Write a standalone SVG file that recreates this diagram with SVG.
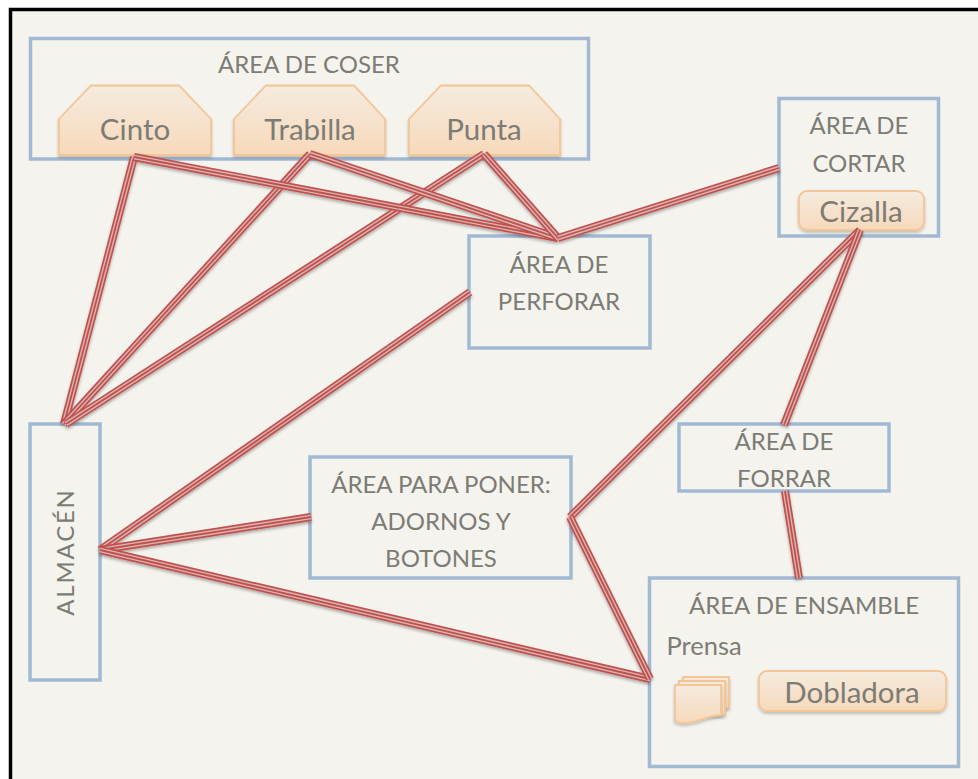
<svg xmlns="http://www.w3.org/2000/svg" width="978" height="779" viewBox="0 0 978 779">
<style>
text{font-family:"Lato","Open Sans","Liberation Sans",sans-serif;fill:#7c7c74;text-anchor:middle}
.t{font-size:24px}
.b{font-size:29.500px}
.box{fill:none;stroke:#a2b9d3;stroke-width:3.5}
.o{fill:url(#og);stroke:#f4c595;stroke-width:1.8;filter:url(#sh)}
.c1,.c2,.c3{fill:none}
.c1{stroke:#c0504d;stroke-width:8}
.c2{stroke:#d9b6b3;stroke-width:4.600}
.c3{stroke:#c0504d;stroke-width:1.800}
</style>
<defs>
<linearGradient id="og" x1="0" y1="0" x2="0" y2="1"><stop offset="0" stop-color="#f5ebdf"/><stop offset="1" stop-color="#f7d9bb"/></linearGradient>
<filter id="sh" x="-10%" y="-10%" width="120%" height="130%"><feDropShadow dx="0" dy="2" stdDeviation="1.500" flood-color="#000" flood-opacity=".22"/></filter>
<filter id="csh" x="-10%" y="-10%" width="120%" height="120%"><feDropShadow dx="0" dy="2" stdDeviation="1.500" flood-color="#000" flood-opacity=".3"/></filter>
</defs>
<rect width="978" height="779" fill="#fff"/>
<rect x="10.500" y="9.500" width="1000" height="800" fill="#f4f3ee" stroke="#000" stroke-width="3.500"/>

<g id="coser"><rect class="box" x="30.500" y="38.500" width="558" height="120.500"/><text class="t" x="309" y="73">ÁREA DE COSER</text></g>
<g id="cinto"><path class="o" d="M91 85.500H179L211 119V155H59V119Z"/><text class="b" x="135" y="140">Cinto</text></g>
<g id="trabilla"><path class="o" d="M266 85.500H354L385 119V155H234V119Z"/><text class="b" x="310" y="140">Trabilla</text></g>
<g id="punta"><path class="o" d="M441 85.500H529L560 119V155H409V119Z"/><text class="b" x="484" y="140">Punta</text></g>
<g id="cortar"><rect class="box" x="779" y="98.500" width="159.500" height="137.500"/><text class="t" x="859" y="134">ÁREA DE</text><text class="t" x="859" y="172">CORTAR</text></g>
<g id="cizalla"><rect class="o" x="799" y="191" width="125" height="39" rx="8"/><text class="b" x="861" y="222">Cizalla</text></g>
<g id="perforar"><rect class="box" x="469" y="236" width="181" height="112"/><text class="t" x="559" y="273">ÁREA DE</text><text class="t" x="559" y="310">PERFORAR</text></g>
<g id="almacen"><rect class="box" x="30" y="424" width="70" height="256"/><text class="t" style="letter-spacing:1.800px" transform="translate(74 552) rotate(-90)">ALMACÉN</text></g>
<g id="poner"><rect class="box" x="310" y="457" width="261" height="121"/><text class="t" x="441" y="493">ÁREA PARA PONER:</text><text class="t" x="441" y="530">ADORNOS Y</text><text class="t" x="441" y="567">BOTONES</text></g>
<g id="forrar"><rect class="box" x="679" y="424" width="210" height="67"/><text class="t" x="784" y="450">ÁREA DE</text><text class="t" x="784" y="487">FORRAR</text></g>
<g id="ensamble"><rect class="box" x="649.500" y="578" width="309" height="188.500"/><text class="t" x="804" y="614">ÁREA DE ENSAMBLE</text><text class="t" style="font-size:25.500px" x="704" y="655">Prensa</text></g>
<g id="prensa">
<path class="o" d="M683 677H729V708H683Z"/>
<path class="o" d="M679 681H725V715H679Z"/>
<path class="o" d="M675 685H721V715C705 716 698 723 684 723Q678 723 675 721Z"/>
</g>
<g id="dobladora"><rect class="o" x="759" y="671" width="187" height="40" rx="8"/><text class="b" x="852" y="703">Dobladora</text></g>

<g id="connectors" filter="url(#csh)">
<g id="c01"><line class="c1" x1="134" y1="157" x2="64" y2="424"/><line class="c2" x1="134" y1="157" x2="64" y2="424"/><line class="c3" x1="134" y1="157" x2="64" y2="424"/></g>
<g id="c02"><line class="c1" x1="310" y1="154" x2="64" y2="424"/><line class="c2" x1="310" y1="154" x2="64" y2="424"/><line class="c3" x1="310" y1="154" x2="64" y2="424"/></g>
<g id="c03"><line class="c1" x1="484" y1="154" x2="66" y2="424"/><line class="c2" x1="484" y1="154" x2="66" y2="424"/><line class="c3" x1="484" y1="154" x2="66" y2="424"/></g>
<g id="c04"><line class="c1" x1="134" y1="157" x2="558" y2="238"/><line class="c2" x1="134" y1="157" x2="558" y2="238"/><line class="c3" x1="134" y1="157" x2="558" y2="238"/></g>
<g id="c05"><line class="c1" x1="310" y1="154" x2="558" y2="238"/><line class="c2" x1="310" y1="154" x2="558" y2="238"/><line class="c3" x1="310" y1="154" x2="558" y2="238"/></g>
<g id="c06"><line class="c1" x1="484" y1="154" x2="558" y2="238"/><line class="c2" x1="484" y1="154" x2="558" y2="238"/><line class="c3" x1="484" y1="154" x2="558" y2="238"/></g>
<g id="c07"><line class="c1" x1="558" y1="238" x2="779" y2="168"/><line class="c2" x1="558" y1="238" x2="779" y2="168"/><line class="c3" x1="558" y1="238" x2="779" y2="168"/></g>
<g id="c08"><line class="c1" x1="470" y1="292" x2="100" y2="550"/><line class="c2" x1="470" y1="292" x2="100" y2="550"/><line class="c3" x1="470" y1="292" x2="100" y2="550"/></g>
<g id="c09"><line class="c1" x1="311" y1="517" x2="100" y2="550"/><line class="c2" x1="311" y1="517" x2="100" y2="550"/><line class="c3" x1="311" y1="517" x2="100" y2="550"/></g>
<g id="c10"><line class="c1" x1="100" y1="550" x2="650" y2="679"/><line class="c2" x1="100" y1="550" x2="650" y2="679"/><line class="c3" x1="100" y1="550" x2="650" y2="679"/></g>
<g id="c11"><line class="c1" x1="570" y1="517" x2="860" y2="230"/><line class="c2" x1="570" y1="517" x2="860" y2="230"/><line class="c3" x1="570" y1="517" x2="860" y2="230"/></g>
<g id="c12"><line class="c1" x1="570" y1="517" x2="650" y2="679"/><line class="c2" x1="570" y1="517" x2="650" y2="679"/><line class="c3" x1="570" y1="517" x2="650" y2="679"/></g>
<g id="c13"><line class="c1" x1="860" y1="230" x2="784" y2="425"/><line class="c2" x1="860" y1="230" x2="784" y2="425"/><line class="c3" x1="860" y1="230" x2="784" y2="425"/></g>
<g id="c14"><line class="c1" x1="785" y1="491" x2="799" y2="578"/><line class="c2" x1="785" y1="491" x2="799" y2="578"/><line class="c3" x1="785" y1="491" x2="799" y2="578"/></g>
</g>
</svg>
